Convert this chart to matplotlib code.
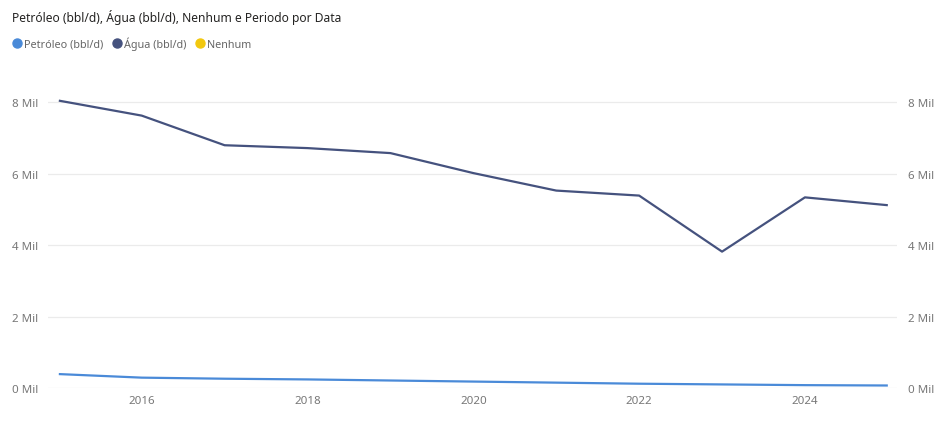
import matplotlib
matplotlib.use('Agg')
import matplotlib.pyplot as plt
from matplotlib.ticker import FuncFormatter
from matplotlib.lines import Line2D

plt.rcParams['font.family'] = ['Noto Sans', 'DejaVu Sans']

# data (values in Mil)
years = [2015, 2016, 2017, 2018, 2019, 2020, 2021, 2022, 2023, 2024, 2025]
petroleo = [0.39, 0.29, 0.26, 0.24, 0.21, 0.18, 0.15, 0.12, 0.10, 0.08, 0.07]
agua = [8.05, 7.63, 6.80, 6.72, 6.58, 6.02, 5.53, 5.39, 3.82, 5.34, 5.12]
series_names = ['Petróleo (bbl/d)', 'Água (bbl/d)', 'Nenhum']
colors = ['#4a8ad8', '#45527e', '#f2c80f']
title = 'Petróleo (bbl/d), Água (bbl/d), Nenhum e Periodo por Data'

fig = plt.figure(figsize=(9.53, 4.27), dpi=100)
ax = fig.add_axes([0.0504, 0.089, 0.8908, 0.719])

ax.plot(years, petroleo, color=colors[0], lw=1.6, solid_capstyle='butt')
ax.plot(years, agua, color=colors[1], lw=1.6, solid_capstyle='butt')

ax.set_xlim(2014.87, 2025.11)
ax.set_ylim(0, 8.6)
ax.set_yticks([0, 2, 4, 6, 8])
ax.set_xticks([2016, 2018, 2020, 2022, 2024])
fmt = FuncFormatter(lambda v, p: f'{v:.0f} Mil')
ax.yaxis.set_major_formatter(fmt)
ax.grid(axis='y', color='#ebebeb', lw=0.9)
ax.set_axisbelow(True)
for s in ax.spines.values():
    s.set_visible(False)
ax.tick_params(axis='both', length=0, labelsize=8.3, colors='#777777')
ax.tick_params(axis='y', pad=7)
ax.tick_params(axis='x', pad=5)

ax2 = ax.twinx()
ax2.set_ylim(ax.get_ylim())
ax2.set_yticks([0, 2, 4, 6, 8])
ax2.yaxis.set_major_formatter(fmt)
for s in ax2.spines.values():
    s.set_visible(False)
ax2.tick_params(axis='y', length=0, labelsize=8.3, colors='#777777', pad=8)

fig.text(0.0126, 0.958, title, fontsize=8.7, color='#252423', va='center')

handles = [Line2D([], [], marker='o', ls='', markersize=6.5, color=c) for c in colors]
fig.legend(handles, series_names, loc='center left', bbox_to_anchor=(0.002, 0.897),
           ncol=3, frameon=False, fontsize=7.8, handletextpad=-0.35, columnspacing=0.25,
           labelcolor='#666666', borderaxespad=0)

fig.savefig('out.png', dpi=100, facecolor='white')
